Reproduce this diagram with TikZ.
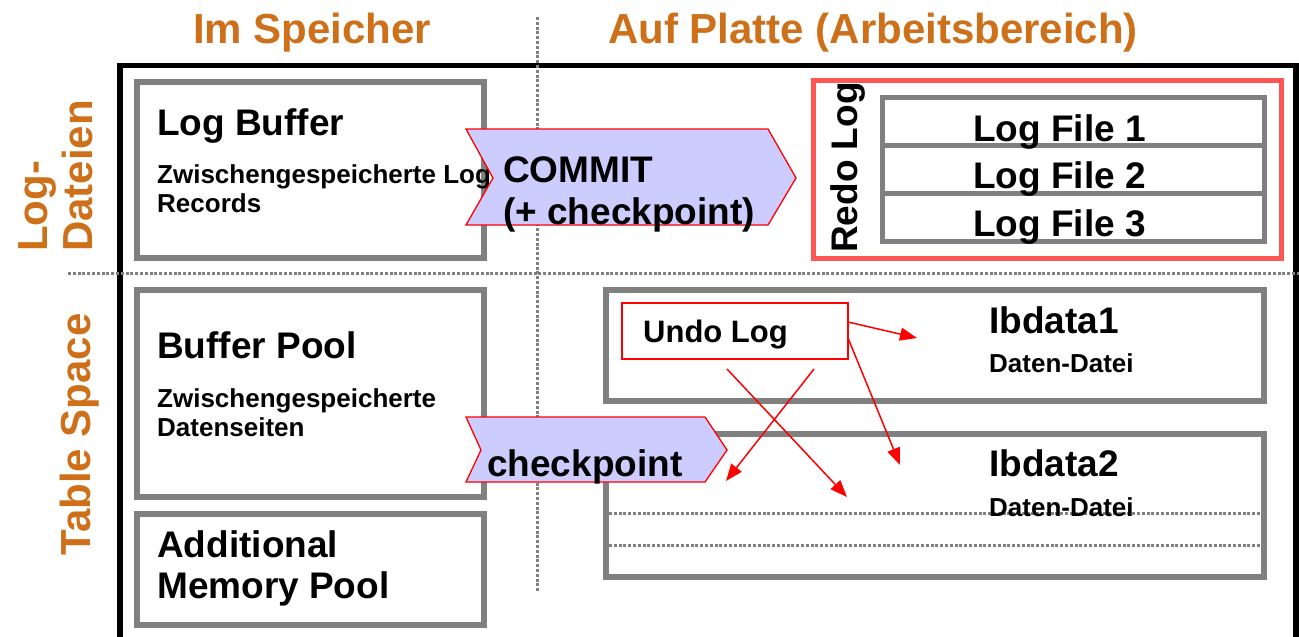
\documentclass[tikz,border=0pt]{standalone}
\usepackage{fontspec}
\setmainfont{Liberation Sans}
\usetikzlibrary{arrows.meta}
\definecolor{hdrorange}{RGB}{206,112,26}
\definecolor{boxgray}{RGB}{128,128,128}
\definecolor{redlog}{RGB}{255,85,85}
\definecolor{chevfill}{RGB}{204,204,255}
\definecolor{arrred}{RGB}{255,0,0}
\newcommand{\setfs}[1]{\fontsize{#1}{#1}\selectfont\bfseries}
\begin{document}
\begin{tikzpicture}[x=1pt,y=-1pt,
  graybox/.style={draw=boxgray,line width=5.5pt,inner sep=0pt,fill=white},
  txt/.style={anchor=base west,inner sep=0pt,font=\setfs{37}},
  smalltxt/.style={anchor=base west,inner sep=0pt,font=\setfs{26}},
  hdr/.style={anchor=base west,inner sep=0pt,font=\setfs{42},text=hdrorange},
  dotline/.style={draw=boxgray,line width=3pt,dash pattern=on 3pt off 1.8pt},
  redarrow/.style={draw=arrred,line width=1.5pt,-{Triangle[length=17pt,width=13pt]}},
  chevron/.style={draw=arrred,fill=chevfill,line width=1.3pt,line join=miter}]
\useasboundingbox (0,0) rectangle (1299,637);

% headers
\node[hdr] (hmem) at (193,43) {Im Speicher};
\node[hdr] (hdisk) at (608,43) {Auf Platte (Arbeitsbereich)};
\node[hdr,rotate=90] (hlog1) at (47,252) {Log-};
\node[hdr,rotate=90] (hlog2) at (92,252) {Dateien};
\node[hdr,rotate=90,anchor=base] (hts) at (90,434.5) {Table Space};

% frame
\draw[line width=5.5pt] (120,645) -- (120,65.5) -- (1296,65.5) -- (1296,645);

% dotted separators
\draw[dotline] (537,17) -- (537,592);
\draw[dotline] (68,273) -- (1299,273);

% memory boxes
\node[graybox,minimum width=347pt,minimum height=176pt] (logbuf) at (310.5,170) {};
\node[graybox,minimum width=347pt,minimum height=207pt] (bufpool) at (310.5,393.5) {};
\node[graybox,minimum width=347pt,minimum height=111pt] (addmem) at (310.5,569.5) {};

% redo log
\node[draw=redlog,line width=5pt,inner sep=0pt,minimum width=468pt,minimum height=178pt] (redo) at (1047.5,169.5) {};
\node[graybox,minimum width=382pt,minimum height=48pt] (lf1) at (1073.5,121.5) {};
\node[graybox,minimum width=382pt,minimum height=48pt] (lf2) at (1073.5,169.5) {};
\node[graybox,minimum width=382pt,minimum height=48pt] (lf3) at (1073.5,217.5) {};

% data files
\node[graybox,minimum width=658pt,minimum height=111pt] (ibd1) at (935,345.5) {};
\node[graybox,minimum width=658pt,minimum height=143pt] (ibd2) at (935,505.5) {};
\draw[dotline] (609,513) -- (1261,513);
\draw[dotline] (609,545) -- (1261,545);
\node[draw=arrred,line width=1.5pt,fill=white,inner sep=0pt,minimum width=226pt,minimum height=56pt] (undo) at (735,331) {};

% texts
\node[txt] (tlogbuf) at (157,135) {Log Buffer};
\node[smalltxt] (tlb1) at (157,183) {Zwischengespeicherte Log};
\node[smalltxt] (tlb2) at (157,212) {Records};
\node[txt] (tbufpool) at (157,358) {Buffer Pool};
\node[smalltxt] (tbp1) at (157,407) {Zwischengespeicherte};
\node[smalltxt] (tbp2) at (157,436) {Datenseiten};
\node[txt] (tam1) at (157,557) {Additional};
\node[txt] (tam2) at (157,598) {Memory Pool};
\node[txt,rotate=90] (tredo) at (857,253) {Redo Log};
\node[txt] (tlf1) at (973,141) {Log File 1};
\node[txt] (tlf2) at (973,188) {Log File 2};
\node[txt] (tlf3) at (973,236) {Log File 3};
\node[txt] (tibd1) at (989,333) {Ibdata1};
\node[smalltxt] (tdd1) at (989,372) {Daten-Datei};
\node[txt] (tibd2) at (989,476) {Ibdata2};
\node[smalltxt] (tdd2) at (989,516) {Daten-Datei};
\node[anchor=base west,inner sep=0pt,font=\setfs{31}] (tundo) at (643,342) {Undo Log};

% red arrows
\coordinate (a1s) at (848,322);
\coordinate (a1e) at (917,338);
\coordinate (a2s) at (848,338);
\coordinate (a2e) at (900,465);
\coordinate (a3s) at (727,369);
\coordinate (a3e) at (847,497);
\coordinate (a4s) at (814,369);
\coordinate (a4e) at (726,481);
\draw[redarrow] (a1s) -- (a1e);
\draw[redarrow] (a2s) -- (a2e);
\draw[redarrow] (a3s) -- (a3e);
\draw[redarrow] (a4s) -- (a4e);

% chevrons
\draw[chevron] (466,129) -- (768,129) -- (796,178) -- (768,225) -- (466,225) -- (493,178) -- cycle;
\node[txt] (tcommit) at (503,182) {COMMIT};
\node[txt] (tcommit2) at (503,224) {(+ checkpoint)};
\draw[chevron] (466,417) -- (705,417) -- (727,450) -- (705,482) -- (466,482) -- (481,450) -- cycle;
\node[txt] (tcheck) at (487,476) {checkpoint};
\end{tikzpicture}
\end{document}
